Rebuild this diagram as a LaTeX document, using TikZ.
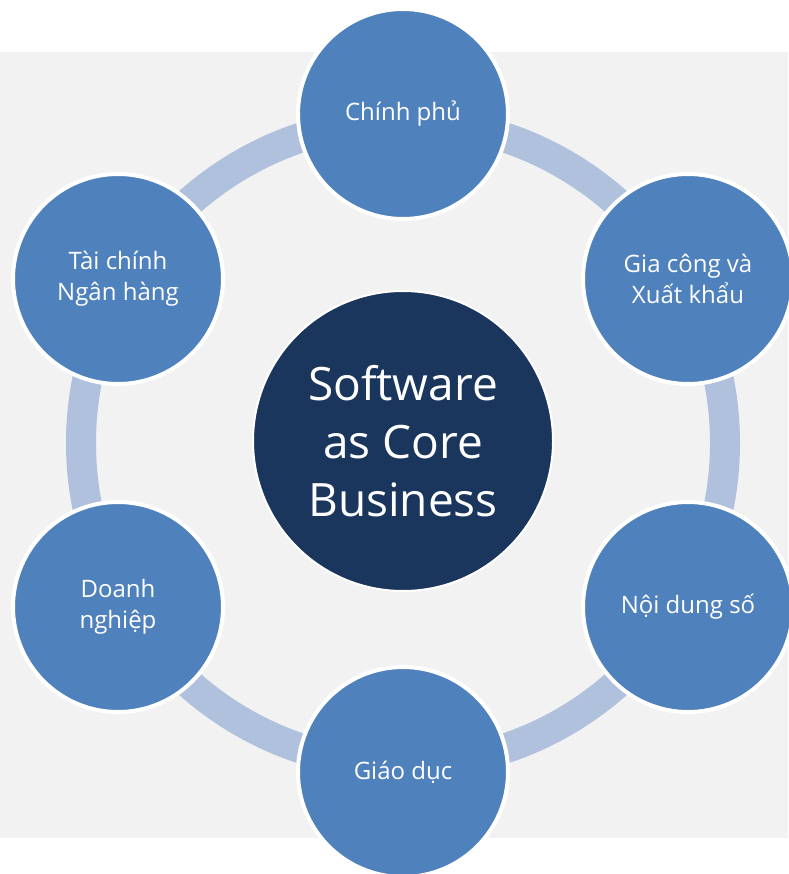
\documentclass[tikz,border=0pt]{standalone}
\usepackage{fontspec}
\setmainfont{Open Sans}
\definecolor{bggray}{RGB}{242,242,242}
\definecolor{ringblue}{RGB}{176,193,221}
\definecolor{satblue}{RGB}{79,129,189}
\definecolor{corenavy}{RGB}{27,54,93}
\begin{document}
\begin{tikzpicture}[x=1pt,y=-1pt,
  sat/.style={circle,fill=satblue,draw=white,line width=4pt,minimum size=210pt,inner sep=0pt,
    text=white,font=\fontsize{24}{31}\selectfont,align=center},
  core/.style={circle,fill=corenavy,draw=white,line width=2pt,minimum size=300pt,inner sep=0pt,
    text=white,font=\fontsize{46}{58}\selectfont,align=center}]
\useasboundingbox (0,0) rectangle (788,874);
\fill[bggray] (0,52) rectangle (788,838);
\coordinate (c) at (403,443);
\draw[ringblue,line width=30pt] (c) circle[radius=322];
\node[core] (core) at (403,441) {Software\\as Core\\Business};
\node[sat] (s1) at (403,114) {Chính phủ};
\node[sat] (s2) at (688,279) {Gia công và\\Xuất khẩu};
\node[sat] (s3) at (688,607) {Nội dung số};
\node[sat] (s4) at (403,772) {Giáo dục};
\node[sat] (s5) at (118,607) {Doanh\\nghiệp};
\node[sat] (s6) at (118,279) {Tài chính\\Ngân hàng};
\end{tikzpicture}
\end{document}
